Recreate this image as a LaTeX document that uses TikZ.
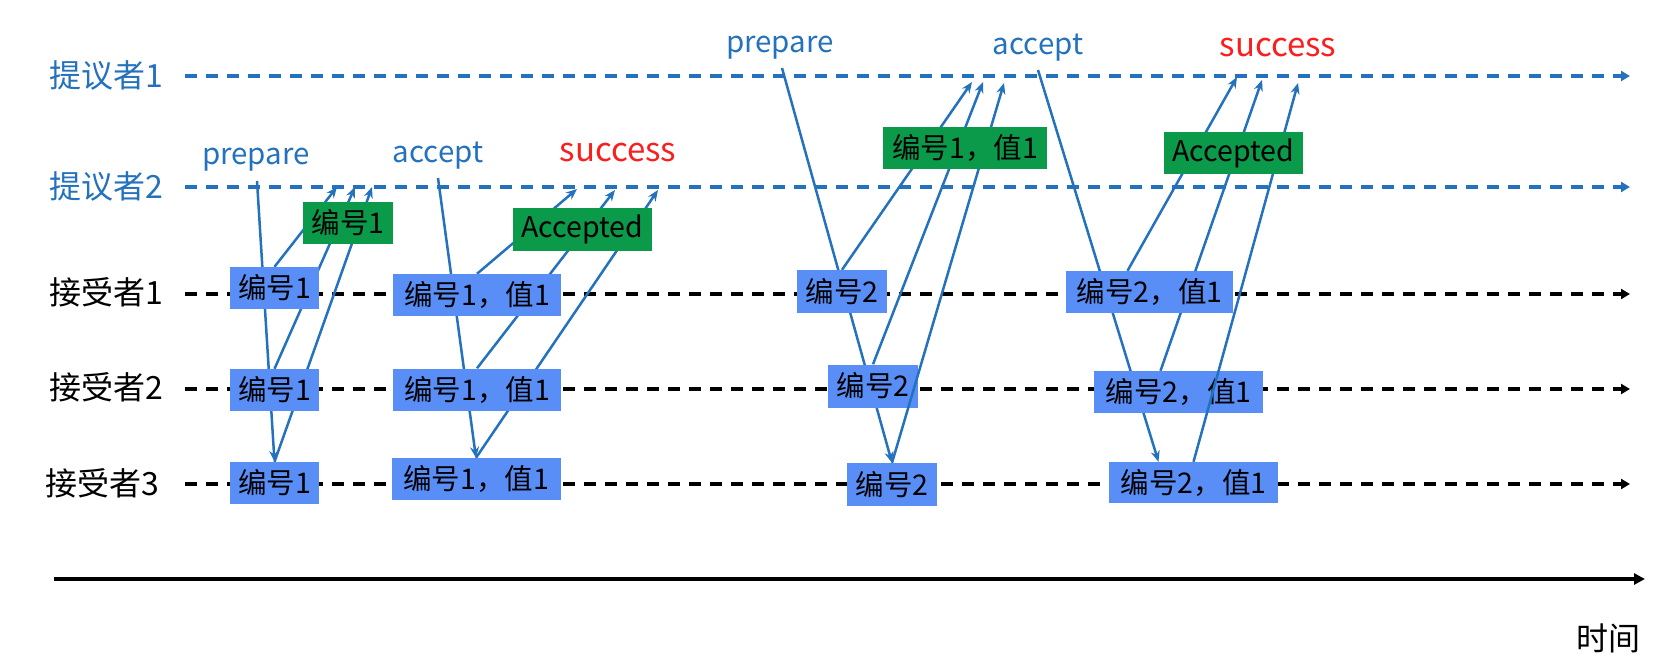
\documentclass[tikz,border=0pt]{standalone}
\usepackage{fontspec}
\setmainfont{Noto Sans CJK SC}
\usetikzlibrary{arrows.meta}
\pgfdeclarelayer{bg}
\pgfsetlayers{bg,main}
\definecolor{lblue}{RGB}{36,114,189}
\definecolor{bblue}{RGB}{90,142,247}
\definecolor{bgreen}{RGB}{10,154,74}
\definecolor{sred}{RGB}{250,30,30}
\begin{document}
\begin{tikzpicture}[x=1pt,y=-1pt,
  rolelbl/.style={inner sep=0pt, font=\fontsize{32}{36}\selectfont},
  phase/.style={inner sep=0pt, text=lblue, font=\fontsize{29.5}{34}\selectfont},
  okay/.style={inner sep=0pt, text=sred, font=\fontsize{33}{37}\selectfont},
  bbox/.style={fill=bblue, inner sep=0pt, minimum height=42pt, font=\fontsize{28.5}{32}\selectfont},
  gbox/.style={fill=bgreen, inner sep=0pt, minimum height=42pt, font=\fontsize{28.5}{32}\selectfont},
  pline/.style={draw=lblue, line width=3.5pt, dash pattern=on 12pt off 9pt, -{Triangle[length=9pt,width=10pt]}},
  aline/.style={draw=black, line width=3.5pt, dash pattern=on 12pt off 9pt, -{Triangle[length=9pt,width=10pt]}},
  msg/.style={draw=lblue, line width=2.5pt, -{Stealth[length=11pt,width=9pt]}}
]
\useasboundingbox (0,0) rectangle (1678,671);

% role labels
\node[rolelbl, text=lblue] (p1) at (106,75) {提议者1};
\node[rolelbl, text=lblue] (p2) at (106,186) {提议者2};
\node[rolelbl] (r1) at (106,292) {接受者1};
\node[rolelbl] (r2) at (106,387) {接受者2};
\node[rolelbl] (r3) at (102,483) {接受者3};
\node[rolelbl] (tm) at (1608,638) {时间};

% timeline ends
\coordinate (p1l) at (185,76);  \coordinate (p1r) at (1630,76);
\coordinate (p2l) at (185,187); \coordinate (p2r) at (1630,187);
\coordinate (r1l) at (185,294); \coordinate (r1r) at (1630,294);
\coordinate (r2l) at (185,389); \coordinate (r2r) at (1630,389);
\coordinate (r3l) at (185,484); \coordinate (r3r) at (1630,484);
\coordinate (tl) at (54,579);   \coordinate (tr) at (1645,579);

% phase labels
\node[phase] (prep1) at (256,160) {prepare};
\node[phase] (acc1) at (438,156) {accept};
\node[okay] (suc1) at (618,153) {success};
\node[phase] (prep2) at (780,48) {prepare};
\node[phase] (acc2) at (1038,48) {accept};
\node[okay] (suc2) at (1278,48) {success};

% group 1: prepare
\node[bbox, minimum width=89pt] (a1) at (274.5,288) {编号1};
\node[bbox, minimum width=89pt] (a2) at (274.5,390) {编号1};
\node[bbox, minimum width=89pt] (a3) at (274.5,483) {编号1};
\coordinate (g1s) at (257,181);
\coordinate (g1t1) at (337,187);
\coordinate (g1t2) at (355,187);
\coordinate (g1t3) at (372,187);

% group 1: accept
\node[bbox, minimum width=168pt] (b1) at (477,295) {编号1，值1};
\node[bbox, minimum width=168pt] (b2) at (477,389.5) {编号1，值1};
\node[bbox, minimum width=169pt] (b3) at (476,479) {编号1，值1};
\coordinate (g2s) at (438,178);
\coordinate (g2t1) at (577,189);
\coordinate (g2t2) at (615,190);
\coordinate (g2t3) at (658,190);

% group 2: prepare
\node[bbox, minimum width=90pt, minimum height=43pt] (c1) at (842,291.5) {编号2};
\node[bbox, minimum width=90pt, minimum height=43pt] (c2) at (873,386) {编号2};
\node[bbox, minimum width=90pt, minimum height=43pt] (c3) at (892,484.5) {编号2};
\coordinate (g3s) at (782,68);
\coordinate (g3t1) at (972,82);
\coordinate (g3t2) at (983,82);
\coordinate (g3t3) at (1004,83);

% group 2: accept
\node[bbox, minimum width=167pt] (d1) at (1149.5,292) {编号2，值1};
\node[bbox, minimum width=169pt] (d2) at (1178.5,392) {编号2，值1};
\node[bbox, minimum width=169pt, minimum height=41pt] (d3) at (1193.5,482.5) {编号2，值1};
\coordinate (g4s) at (1038,70);
\coordinate (g4t1) at (1237,77);
\coordinate (g4t2) at (1262,80);
\coordinate (g4t3) at (1298,83);

\begin{pgfonlayer}{bg}
  \draw[pline] (p1l) -- (p1r);
  \draw[pline] (p2l) -- (p2r);
  \draw[aline] (r1l) -- (r1r);
  \draw[aline] (r2l) -- (r2r);
  \draw[aline] (r3l) -- (r3r);
  \draw[draw=black, line width=3.5pt, -{Triangle[length=11pt,width=11pt]}] (tl) -- (tr);

  \draw[msg] (g1s) -- (a3.north);
  \draw[msg] (a1.north) -- (g1t1);
  \draw[msg] (a2.north) -- (g1t2);
  \draw[msg] (a3.north) -- (g1t3);

  \draw[msg] (g2s) -- (b3.north);
  \draw[msg] (b1.north) -- (g2t1);
  \draw[msg] (b2.north) -- (g2t2);
  \draw[msg] (b3.north) -- (g2t3);

  \draw[msg] (g3s) -- (c3.north);
  \draw[msg] (c1.north) -- (g3t1);
  \draw[msg] (c2.north) -- (g3t2);

  \draw[msg] (g4s) -- ([xshift=-35pt]d3.north);
  \draw[msg] ([xshift=-22pt]d1.north) -- (g4t1);
  \draw[msg] ([xshift=-18pt]d2.north) -- (g4t2);
\end{pgfonlayer}

% lines drawn over the blue boxes
\draw[msg] (c3.north) -- (g3t3);
\draw[msg] (d3.north) -- (g4t3);

% green reply boxes
\node[gbox, minimum width=90pt] (e1) at (348,223) {编号1};
\node[gbox, minimum width=139pt, minimum height=43pt] (e2) at (582.5,229.5) {Accepted};
\node[gbox, minimum width=164pt] (e3) at (965,148) {编号1，值1};
\node[gbox, minimum width=139pt] (e4) at (1233.5,153) {Accepted};
\end{tikzpicture}
\end{document}
